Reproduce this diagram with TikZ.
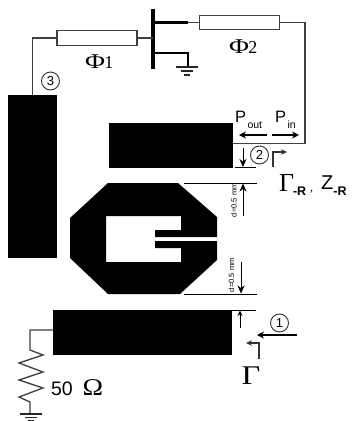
\documentclass[tikz,border=0pt]{standalone}
\usepackage{fontspec}
\usepackage{graphicx}
\setmainfont{Liberation Serif}
\setsansfont{Liberation Sans}
\usetikzlibrary{arrows.meta}
\definecolor{wirecol}{gray}{0.25}
\tikzset{
  x=1pt,y=-1pt,
  patch/.style={fill=black,draw=none,inner sep=0pt,outer sep=0pt},
  tline/.style={draw=wirecol,fill=white,line width=1.4pt,inner sep=0pt,outer sep=0pt,minimum width=80pt,minimum height=14.5pt},
  wire/.style={draw=wirecol,line width=1.3pt,line join=miter},
  thickwire/.style={draw=black,line width=2.2pt},
  gatebar/.style={draw=black,line width=3.8pt},
  gnd/.style={draw=black!85,line width=1.2pt},
  dim/.style={draw=black,line width=.8pt},
  dimarrow/.style={draw=black,line width=.8pt,-{Stealth[length=8pt,width=7pt]}},
  smallarrow/.style={draw=black,line width=.8pt,-{Stealth[length=5.5pt,width=5pt]}},
  flow/.style={draw=black,line width=1.1pt,-{Stealth[length=7pt,width=7pt]}},
  bent/.style={draw=black!80,line width=1.2pt,-{Stealth[length=6pt,width=5.5pt]}},
  lab/.style={inner sep=0pt,outer sep=0pt},
  num/.style={circle,draw=black!80,line width=.9pt,minimum size=18pt,inner sep=0pt,outer sep=0pt,font=\sffamily\fontsize{13}{13}\selectfont},
  dlab/.style={inner sep=0pt,outer sep=0pt,rotate=90,font=\sffamily\fontsize{7.6}{7.6}\selectfont},
}
\newcommand{\phisym}[1]{\scalebox{1.3}[1]{\fontsize{21}{21}\selectfont Φ}\kern-.5pt{\fontsize{18}{18}\selectfont #1}}
\begin{document}
\begin{tikzpicture}
\useasboundingbox (0,0) rectangle (352,421);
% patches
\node[patch,minimum width=49pt,minimum height=163pt] (left) at (32.5,176.5) {};
\node[patch,minimum width=124pt,minimum height=45pt] (top) at (171,145) {};
\node[patch,minimum width=179pt,minimum height=45pt] (bottom) at (142.5,332.5) {};
% octagonal ring
\fill[black,even odd rule]
  (108,183) -- (178,183) -- (217,217) -- (217,260) -- (180,294) -- (108,294) -- (70,258) -- (70,218) -- cycle
  (106,216) -- (181,216) -- (181,230) -- (155,230) -- (155,237) -- (217,237) -- (217,241) -- (155,241) -- (155,248) -- (181,248) -- (181,262) -- (106,262) -- cycle;
% transmission lines
\node[tline] (phione) at (97,38) {};
\node[tline] (phitwo) at (239.5,22.5) {};
% transistor
\coordinate (gtop) at (153,9);
\coordinate (gbot) at (153,69);
\coordinate (gin) at (153,38);
\coordinate (dr) at (153,22.5);
\coordinate (drend) at (188,22.5);
\coordinate (so) at (153,53);
\coordinate (socorner) at (188,53);
\coordinate (gndtop) at (188,67);
\draw[gatebar] (gtop) -- (gbot);
\draw[thickwire] (dr) -- (drend);
\draw[wire] (drend) -- (phitwo.west);
\draw[thickwire] (so) -- (socorner) -- (gndtop);
\draw[gnd] (176,67) -- (198,67) (181,71) -- (193,71) (184,75) -- (190,75);
% wiring
\draw[wire] (phione.east) -- (gin);
\draw[wire] (phione.west) -| (left.north);
\coordinate (wr) at (305,22.5);
\coordinate (tr) at (305,143.5);
\draw[wire] (phitwo.east) -- (wr) -- (tr) -- (top.east |- tr);
% resistor
\coordinate (rtop) at (30,330);
\coordinate (rgnd) at (30,414);
\draw[wire] (bottom.west |- rtop) -- (rtop) -- (30,350) -- (43,355) -- (19,363) -- (43,372) -- (19,380) -- (43,388) -- (19,397) -- (30,402) -- (rgnd);
\draw[gnd] (20,414) -- (42,414) (25,417.5) -- (37,417.5) (28,420.5) -- (34,420.5);
% labels
\node[lab,anchor=base west] (lone) at (85,68.5) {\phisym{1}};
\node[lab,anchor=base west] (ltwo) at (229,53.5) {\phisym{2}};
\node[num] (n3) at (50.5,81) {3};
\node[num] (n2) at (259.5,155) {2};
\node[num] (n1) at (279.5,323) {1};
\node[lab,font=\sffamily\fontsize{16.5}{16.5}\selectfont,anchor=base west] (pout) at (235,122) {P\kern1.5pt\raisebox{-6pt}{\fontsize{10.5}{10.5}\selectfont out}};
\node[lab,font=\sffamily\fontsize{16.5}{16.5}\selectfont,anchor=base west] (pin) at (275,122) {P\kern1.5pt\raisebox{-6pt}{\fontsize{10.5}{10.5}\selectfont in}};
\node[lab,anchor=base west] (gr) at (279,191) {{\fontsize{26}{26}\selectfont Γ}\kern-1pt\raisebox{-4pt}{\sffamily\fontsize{12.5}{12.5}\selectfont\bfseries -R}\kern4pt{\fontsize{12}{12}\selectfont ,}\kern8pt\raisebox{2pt}{\sffamily\fontsize{20}{20}\selectfont Z}\raisebox{-4pt}{\sffamily\fontsize{12.5}{12.5}\selectfont\bfseries -R}};
\node[lab,anchor=base,font=\fontsize{27}{27}\selectfont] (gam) at (251,384) {\scalebox{1.2}[1]{Γ}};
\node[lab,anchor=base west] (ohm) at (51,395) {{\sffamily\fontsize{19.5}{19.5}\selectfont 50}\kern10pt\scalebox{1.15}[1]{\fontsize{24}{24}\selectfont Ω}};
\node[dlab] (d1) at (234,200) {d=0.5 mm};
\node[dlab] (d2) at (231.5,275) {d=0.5 mm};
% dimension marks
\coordinate (a1) at (235,167);\coordinate (a2) at (256,167);
\coordinate (b1) at (184,183);\coordinate (b2) at (257,183);
\coordinate (c1) at (184,294);\coordinate (c2) at (257,294);
\coordinate (e1) at (232,310);\coordinate (e2) at (256,310);
\draw[dim] (a1) -- (a2);
\draw[dim] (b1) -- (b2);
\draw[dim] (c1) -- (c2);
\draw[dim] (e1) -- (e2);
\draw[dimarrow] (243,148) -- (243,167);
\draw[dimarrow] (243,216) -- (243,183.5);
\draw[dimarrow] (241,262) -- (241,293.5);
\draw[smallarrow] (240,328) -- (240,310.5);
% flow arrows
\draw[flow] (267,135) -- (239,135);
\draw[flow] (272,135) -- (299,135);
\draw[flow] (297,335) -- (257,335);
\draw[bent] (273,167) -- (273,152) -- (287,152);
\draw[bent] (259,359) -- (259,343) -- (246,343);
\end{tikzpicture}
\end{document}
